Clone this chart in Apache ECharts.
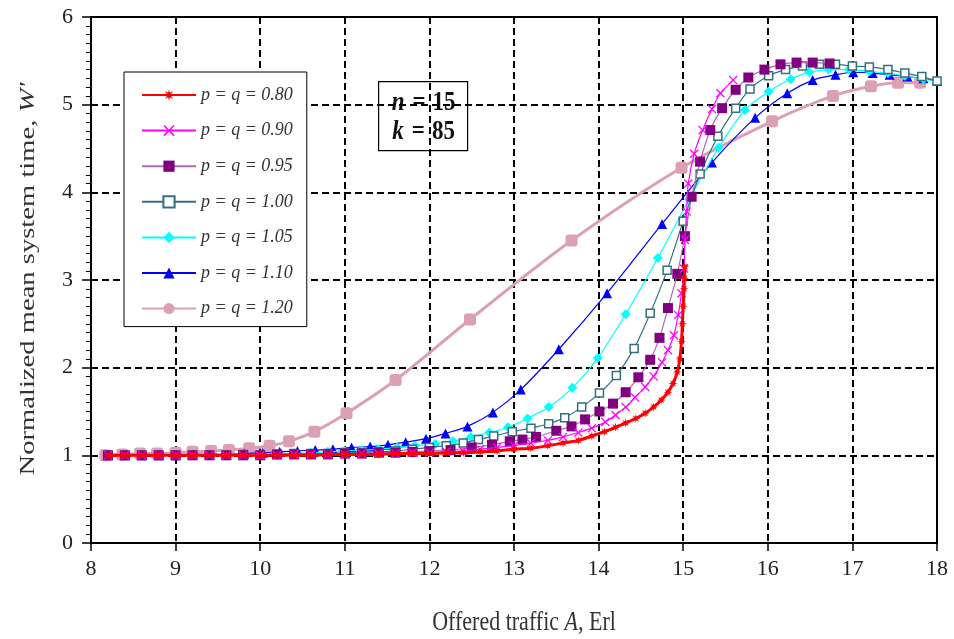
<!DOCTYPE html>
<html>
<head>
<meta charset="utf-8">
<script src="https://cdn.jsdelivr.net/npm/echarts@6/dist/echarts.min.js"></script>
<style>
  html, body { margin: 0; padding: 0; background: #fff; }
  #chart { width: 954px; height: 639px; }
</style>
</head>
<body>
<div id="chart"></div>
<script>
// Axis ticks
const xTicks = [8, 9, 10, 11, 12, 13, 14, 15, 16, 17, 18];
const yTicks = [0, 1, 2, 3, 4, 5, 6];

// Legend names
const seriesNames = [
  'p = q = 0.80', 'p = q = 0.90', 'p = q = 0.95', 'p = q = 1.00',
  'p = q = 1.05', 'p = q = 1.10', 'p = q = 1.20'
];

// p = q = 0.80
const x080 = [8.2, 8.4, 8.6, 8.8, 9.0, 9.2, 9.4, 9.6, 9.8, 10.0, 10.2, 10.4, 10.6, 10.8, 11.0, 11.2, 11.4, 11.6, 11.8, 12.0,
  12.2, 12.4, 12.6, 12.8, 13.0, 13.2, 13.4, 13.58, 13.76, 13.92, 14.07, 14.2, 14.32, 14.44, 14.55, 14.65, 14.74, 14.82,
  14.88, 14.93, 14.96, 14.98, 14.99, 15.0, 15.01, 15.015, 15.02];
const y080 = [1.0, 1.0, 1.0, 1.0, 1.0, 1.0, 1.0, 1.0, 1.0, 1.0, 1.0, 1.0, 1.0, 1.01, 1.01, 1.01, 1.01, 1.02, 1.02, 1.02,
  1.03, 1.03, 1.04, 1.05, 1.07, 1.08, 1.11, 1.14, 1.17, 1.22, 1.27, 1.32, 1.37, 1.42, 1.48, 1.55, 1.63, 1.72,
  1.82, 1.95, 2.1, 2.3, 2.5, 2.7, 2.9, 3.02, 3.15];

// p = q = 0.90
const x090 = [8.2, 8.4, 8.6, 8.8, 9.0, 9.2, 9.4, 9.6, 9.8, 10.0, 10.2, 10.4, 10.6, 10.8, 11.0, 11.2, 11.4, 11.6, 11.8, 12.0,
  12.2, 12.4, 12.6, 12.8, 13.0, 13.2, 13.4, 13.58, 13.76, 13.92, 14.08, 14.2, 14.32, 14.43, 14.55, 14.65, 14.75, 14.82,
  14.89, 14.94, 14.98, 15.01, 15.02, 15.04, 15.06, 15.13, 15.23, 15.34, 15.44, 15.59];
const y090 = [1.0, 1.0, 1.0, 1.0, 1.0, 1.0, 1.0, 1.0, 1.0, 1.0, 1.0, 1.01, 1.01, 1.01, 1.01, 1.02, 1.02, 1.02, 1.03, 1.03,
  1.04, 1.05, 1.07, 1.09, 1.11, 1.14, 1.17, 1.21, 1.26, 1.31, 1.38, 1.46, 1.55, 1.66, 1.78, 1.9, 2.06, 2.2,
  2.37, 2.6, 2.85, 3.13, 3.46, 3.78, 4.1, 4.44, 4.71, 4.95, 5.13, 5.28];

// p = q = 0.95
const x095 = [8.2, 8.4, 8.6, 8.8, 9.0, 9.2, 9.4, 9.6, 9.8, 10.0, 10.2, 10.4, 10.6, 10.8, 11.0, 11.2, 11.4, 11.6, 11.8, 12.0,
  12.25, 12.5, 12.74, 12.95, 13.1, 13.26, 13.5, 13.68, 13.84, 14.01, 14.17, 14.32, 14.47, 14.61, 14.72, 14.82, 14.93,
  15.02, 15.1, 15.2, 15.32, 15.46, 15.62, 15.77, 15.96, 16.15, 16.34, 16.53, 16.73];
const y095 = [1.0, 1.0, 1.0, 1.0, 1.0, 1.0, 1.0, 1.0, 1.0, 1.0, 1.01, 1.01, 1.01, 1.01, 1.02, 1.02, 1.03, 1.03, 1.04, 1.05,
  1.06, 1.09, 1.12, 1.16, 1.18, 1.21, 1.28, 1.33, 1.41, 1.5, 1.59, 1.72, 1.89, 2.09, 2.34, 2.68, 3.07,
  3.5, 3.95, 4.35, 4.71, 4.96, 5.17, 5.31, 5.4, 5.46, 5.48, 5.48, 5.47];

// p = q = 1.00
const x100 = [8.2, 8.4, 8.6, 8.8, 9.0, 9.2, 9.4, 9.6, 9.8, 10.0, 10.2, 10.4, 10.6, 10.8, 11.0, 11.2, 11.4, 11.6, 11.8, 12.0,
  12.2, 12.4, 12.58, 12.76, 12.98, 13.2, 13.41, 13.6, 13.8, 14.01, 14.21, 14.42, 14.61, 14.81, 15.0, 15.2, 15.41, 15.62,
  15.79, 16.01, 16.21, 16.41, 16.61, 16.8, 17.0, 17.2, 17.42, 17.62, 17.82, 18.0];
const y100 = [1.0, 1.0, 1.0, 1.0, 1.0, 1.0, 1.0, 1.0, 1.01, 1.01, 1.01, 1.02, 1.02, 1.02, 1.03, 1.03, 1.04, 1.05, 1.07, 1.09,
  1.11, 1.14, 1.18, 1.22, 1.27, 1.31, 1.36, 1.43, 1.55, 1.71, 1.91, 2.22, 2.62, 3.11, 3.67, 4.21, 4.64, 4.96,
  5.18, 5.33, 5.4, 5.44, 5.46, 5.46, 5.44, 5.43, 5.4, 5.36, 5.32, 5.27];

// p = q = 1.05
const x105 = [8.2, 8.4, 8.6, 8.8, 9.0, 9.2, 9.4, 9.6, 9.8, 10.0, 10.2, 10.4, 10.6, 10.8, 11.0, 11.2, 11.4, 11.62, 11.83, 12.07,
  12.28, 12.49, 12.71, 12.93, 13.16, 13.41, 13.69, 13.99, 14.32, 14.7, 15.07, 15.42, 15.73, 16.01, 16.27, 16.49, 16.72,
  16.96, 17.2, 17.42, 17.62, 17.84, 18.0];
const y105 = [1.0, 1.0, 1.0, 1.0, 1.0, 1.0, 1.0, 1.01, 1.01, 1.01, 1.02, 1.02, 1.03, 1.04, 1.05, 1.06, 1.07, 1.09, 1.11, 1.13,
  1.16, 1.21, 1.26, 1.32, 1.42, 1.55, 1.77, 2.11, 2.61, 3.25, 3.92, 4.51, 4.94, 5.15, 5.29, 5.37, 5.4,
  5.4, 5.38, 5.36, 5.33, 5.29, 5.27];

// p = q = 1.10
const x110 = [8.2, 8.4, 8.6, 8.8, 9.0, 9.2, 9.4, 9.6, 9.81, 10.03, 10.23, 10.44, 10.65, 10.86, 11.08, 11.3, 11.51, 11.72,
  11.96, 12.19, 12.45, 12.75, 13.08, 13.53, 14.1, 14.75, 15.34, 15.85, 16.23, 16.53, 16.8, 17.01, 17.24, 17.44, 17.65,
  17.84, 18.0];
const y110 = [1.0, 1.0, 1.0, 1.0, 1.0, 1.01, 1.01, 1.01, 1.02, 1.03, 1.04, 1.05, 1.06, 1.07, 1.09, 1.1, 1.12, 1.15,
  1.19, 1.25, 1.33, 1.49, 1.75, 2.21, 2.85, 3.64, 4.34, 4.85, 5.13, 5.28, 5.34, 5.37, 5.36, 5.34, 5.32,
  5.3, 5.27];

// p = q = 1.20
const x120 = [8.17, 8.37, 8.58, 8.78, 9.0, 9.2, 9.42, 9.63, 9.87, 10.11, 10.34, 10.64, 11.02, 11.6, 12.48, 13.68, 14.98,
  16.05, 16.77, 17.22, 17.54, 17.8];
const y120 = [1.0, 1.01, 1.02, 1.02, 1.03, 1.04, 1.05, 1.06, 1.08, 1.11, 1.16, 1.27, 1.48, 1.86, 2.55, 3.45, 4.28,
  4.81, 5.1, 5.21, 5.25, 5.25];

// Marker shapes: an eight-spoke asterisk and a thin cross
function starPath(spikes, outer, inner) {
  const pts = [];
  for (let i = 0; i < spikes * 2; i++) {
    const r = i % 2 === 0 ? outer : inner;
    const a = Math.PI * i / spikes - Math.PI / 2;
    pts.push((10 + r * Math.cos(a)).toFixed(2) + ',' + (10 + r * Math.sin(a)).toFixed(2));
  }
  return 'path://M' + pts.join(' L') + ' Z';
}
const asterisk = starPath(8, 10, 4.2);
const cross = 'path://M1,0 L5,4 L9,0 L10,1 L6,5 L10,9 L9,10 L5,6 L1,10 L0,9 L4,5 L0,1 Z';

const pairs = (xs, ys) => xs.map((x, i) => [x, ys[i]]);

const serif = 'Liberation Serif, Times New Roman, serif';

const styles = [
  { line: '#FF0000', width: 3, symbol: asterisk, size: 9, fill: '#FF0000', border: null },
  { line: '#FF00FF', width: 1.2, symbol: cross, size: 9, fill: '#FF00FF', border: null },
  { line: '#B06AB0', width: 1.2, symbol: 'rect', size: 10, fill: '#800080', border: null },
  { line: '#33707E', width: 1.2, symbol: 'rect', size: 8, fill: '#FFFFFF', border: '#33707E' },
  { line: '#00FFFF', width: 1.2, symbol: 'diamond', size: 10, fill: '#00FFFF', border: null },
  { line: '#0000FF', width: 1.2, symbol: 'triangle', size: 10, fill: '#0000FF', border: null },
  { line: '#DBA0B4', width: 3, symbol: 'circle', size: 12, fill: '#DBA0B4', border: null }
];

const dataSets = [
  pairs(x080, y080), pairs(x090, y090), pairs(x095, y095), pairs(x100, y100),
  pairs(x105, y105), pairs(x110, y110), pairs(x120, y120)
];

const series = dataSets.map((d, i) => {
  const s = styles[i];
  // the 1.20 curve shows rounded-square markers while its legend key is a circle
  const data = i === 6 ? d.map(v => ({ value: v, symbol: 'roundRect' })) : d;
  return {
    name: seriesNames[i],
    type: 'line',
    data: data,
    smooth: 0.3,
    symbol: s.symbol,
    symbolSize: s.size,
    showAllSymbol: true,
    z: 10 - i,
    lineStyle: { color: s.line, width: s.width },
    itemStyle: {
      color: s.fill,
      borderColor: s.border || s.fill,
      borderWidth: s.border ? 1.5 : 0
    },
    emphasis: { disabled: true }
  };
});

const chart = echarts.init(document.getElementById('chart'), null, { renderer: 'canvas' });

const gridLine = { show: true, lineStyle: { color: '#000', width: 2, type: [7, 4] } };

const boxText = (letter, value) => ({
  text: '{i|' + letter + '}{b|=}{v|' + value + '}',
  align: 'center',
  verticalAlign: 'middle',
  rich: {
    i: { fontFamily: serif, fontSize: 23, fontWeight: 'bold', fontStyle: 'italic', fill: '#111', padding: [0, 8, 0, 0] },
    b: { fontFamily: serif, fontSize: 23, fontWeight: 'bold', fill: '#111', padding: [0, 7, 0, 0] },
    v: { fontFamily: serif, fontSize: 23, fontWeight: 'bold', fill: '#111' }
  }
});

chart.setOption({
  animation: false,
  backgroundColor: '#fff',
  grid: { left: 91, right: 17, top: 17, bottom: 96 },
  legend: {
    orient: 'vertical',
    left: 124,
    top: 72,
    data: seriesNames,
    backgroundColor: '#fff',
    borderColor: '#000',
    borderWidth: 1,
    padding: [13, 14, 8, 17],
    itemWidth: 54,
    itemHeight: 14,
    itemGap: 15.6,
    selectedMode: false,
    textStyle: { fontFamily: serif, fontStyle: 'italic', fontSize: 18, color: '#333', lineHeight: 20 }
  },
  xAxis: [{
    type: 'value',
    min: xTicks[0],
    max: xTicks[xTicks.length - 1],
    interval: 1,
    axisLine: { show: true, onZero: false, lineStyle: { color: '#000', width: 2 } },
    axisTick: { show: true, length: 8, inside: false, lineStyle: { color: '#000', width: 1.5 } },
    axisLabel: { margin: 15, fontFamily: serif, fontSize: 22, color: '#222' },
    splitLine: gridLine
  }, {
    type: 'value',
    position: 'top',
    min: xTicks[0],
    max: xTicks[xTicks.length - 1],
    axisLine: { show: true, onZero: false, lineStyle: { color: '#000', width: 2 } },
    axisTick: { show: false },
    axisLabel: { show: false },
    splitLine: { show: false }
  }],
  yAxis: [{
    type: 'value',
    min: yTicks[0],
    max: yTicks[yTicks.length - 1],
    interval: 1,
    axisLine: { show: true, onZero: false, lineStyle: { color: '#000', width: 2 } },
    axisTick: { show: true, length: 9, inside: false, lineStyle: { color: '#000', width: 1.5 } },
    minorTick: { show: true, splitNumber: 10, length: 5, lineStyle: { color: '#000', width: 1 } },
    axisLabel: { margin: 18, fontFamily: serif, fontSize: 22, color: '#222' },
    splitLine: gridLine
  }, {
    type: 'value',
    position: 'right',
    min: yTicks[0],
    max: yTicks[yTicks.length - 1],
    axisLine: { show: true, onZero: false, lineStyle: { color: '#000', width: 2 } },
    axisTick: { show: false },
    axisLabel: { show: false },
    splitLine: { show: false }
  }],
  series: series,
  graphic: [
    {
      // x-axis title
      type: 'text',
      x: 524,
      y: 623,
      scaleY: 1.25,
      style: {
        text: '{r|Offered traffic }{i|A}{r|, Erl}',
        align: 'center',
        verticalAlign: 'middle',
        rich: {
          r: { fontFamily: serif, fontSize: 22, fill: '#333' },
          i: { fontFamily: serif, fontSize: 22, fontStyle: 'italic', fill: '#333' }
        }
      }
    },
    {
      // y-axis title
      type: 'text',
      x: 28,
      y: 279,
      rotation: Math.PI / 2,
      scaleX: 1.3,
      style: {
        text: "{r|Normalized mean system time, }{i|W'}",
        align: 'center',
        verticalAlign: 'middle',
        rich: {
          r: { fontFamily: serif, fontSize: 22, fill: '#333' },
          i: { fontFamily: serif, fontSize: 22, fontStyle: 'italic', fill: '#333' }
        }
      }
    },
    {
      // parameter box
      type: 'group',
      left: 378,
      top: 81,
      z: 100,
      children: [
        {
          type: 'rect',
          shape: { x: 0, y: 0, width: 89, height: 69 },
          style: { fill: '#fff', stroke: '#000', lineWidth: 1.2 }
        },
        { type: 'text', x: 45, y: 21, scaleY: 1.2, style: boxText('n', '15') },
        { type: 'text', x: 45, y: 50, scaleY: 1.2, style: boxText('k', '85') }
      ]
    }
  ]
});
</script>
</body>
</html>
